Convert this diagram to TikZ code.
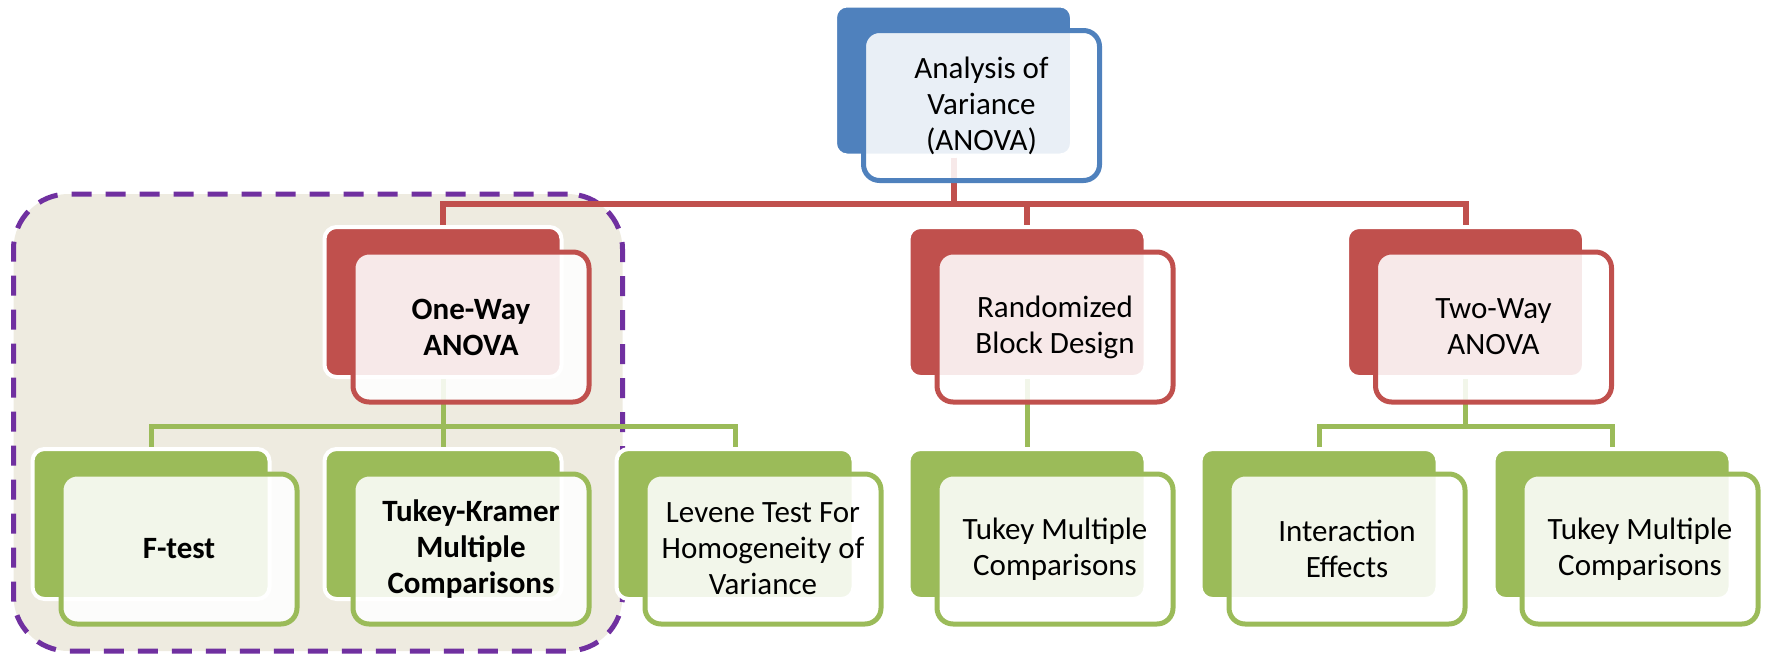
\documentclass[tikz,border=0pt]{standalone}
\usepackage{fontspec}
\setmainfont{Carlito}
\definecolor{ablue}{HTML}{4F81BD}
\definecolor{ared}{HTML}{C0504D}
\definecolor{agreen}{HTML}{9BBB59}
\definecolor{apurple}{HTML}{7030A0}
\definecolor{abeige}{HTML}{EEEBE0}
\tikzset{
  backbox/.style={draw=white, line width=4pt, fill=#1, rounded corners=12pt,
    minimum width=237pt, minimum height=150pt, inner sep=0pt},
  frontbox/.style={draw=#1, line width=5pt, fill=white, fill opacity=0.88, text opacity=1,
    rounded corners=16pt, minimum width=236pt, minimum height=150pt, inner sep=0pt,
    align=center, text=black, font=\fontsize{31}{36}\selectfont},
  boldtext/.style={font=\fontsize{31}{36}\selectfont\bfseries},
  redline/.style={draw=ared, line width=6pt},
  greenline/.style={draw=agreen, line width=5pt},
  groupbox/.style={draw=apurple, fill=abeige, line width=5pt, dash pattern=on 20pt off 14pt,
    rounded corners=55pt, minimum width=609pt, minimum height=457pt, inner sep=0pt}
}
\begin{document}
\begin{tikzpicture}[x=1pt,y=-1pt]
\useasboundingbox (0,0) rectangle (1766,656);
% group
\node[groupbox] (grp) at (318,422.5) {};
% back boxes
\node[backbox=ablue] (top) at (953.5,80.5) {};
\node[backbox=ared] (one) at (443,302) {};
\node[backbox=ared] (rand) at (1027,302) {};
\node[backbox=ared] (two) at (1465.5,302) {};
\node[backbox=agreen] (ft) at (151,524) {};
\node[backbox=agreen] (tk) at (443,524) {};
\node[backbox=agreen] (lev) at (735,524) {};
\node[backbox=agreen] (tr) at (1027,524) {};
\node[backbox=agreen] (ie) at (1319,524) {};
\node[backbox=agreen] (tt) at (1612,524) {};
% connectors
\coordinate (rbar) at (953.5,204);
\coordinate (gbar1) at (443,426);
\coordinate (gbar2) at (1465.5,426);
\draw[redline] (top.south) -- (rbar) -| (one.north);
\draw[redline] (rbar) -| (rand.north);
\draw[redline] (rbar) -| (two.north);
\draw[greenline] (one.south) -- (gbar1) -| (ft.north);
\draw[greenline] (gbar1) -- (tk.north);
\draw[greenline] (gbar1) -| (lev.north);
\draw[greenline] (rand.south) -- (tr.north);
\draw[greenline] (two.south) -- (gbar2) -| (ie.north);
\draw[greenline] (gbar2) -| (tt.north);
% front boxes
\node[frontbox=ablue] (topf) at ([shift={(28,25)}]top.center) {Analysis of\\Variance\\(ANOVA)};
\node[frontbox=ared, boldtext] (onef) at ([shift={(28,25)}]one.center) {One-Way\\ANOVA};
\node[frontbox=ared] (randf) at ([shift={(28,25)}]rand.center) {Randomized\\Block Design};
\node[frontbox=ared] (twof) at ([shift={(28,25)}]two.center) {Two-Way\\ANOVA};
\node[frontbox=agreen, boldtext] (ftf) at ([shift={(28,25)}]ft.center) {F-test};
\node[frontbox=agreen, boldtext] (tkf) at ([shift={(28,25)}]tk.center) {Tukey-Kramer\\Multiple\\Comparisons};
\node[frontbox=agreen] (levf) at ([shift={(28,25)}]lev.center) {Levene Test For\\Homogeneity of\\Variance};
\node[frontbox=agreen] (trf) at ([shift={(28,25)}]tr.center) {Tukey Multiple\\Comparisons};
\node[frontbox=agreen] (ief) at ([shift={(28,25)}]ie.center) {Interaction\\Effects};
\node[frontbox=agreen] (ttf) at ([shift={(28,25)}]tt.center) {Tukey Multiple\\Comparisons};
\end{tikzpicture}
\end{document}
